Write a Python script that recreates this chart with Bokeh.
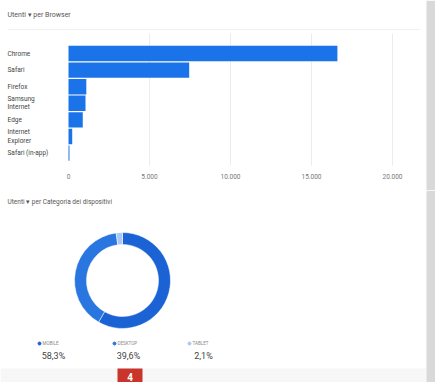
import math
from bokeh.plotting import figure
from bokeh.models import Range1d, ColumnDataSource
from bokeh.layouts import column
from bokeh.core.properties import value
from bokeh.embed import file_html
from bokeh.resources import INLINE

# ---- data ----
browsers = ["Chrome", "Safari", "Firefox", "Samsung\nInternet", "Edge", "Internet\nExplorer", "Safari (in-app)"]
users = [16600, 7450, 1100, 1050, 880, 230, 60]
x_ticks = [0, 5000, 10000, 15000, 20000]
x_tick_labels = ["0", "5.000", "10.000", "15.000", "20.000"]

devices = ["MOBILE", "DESKTOP", "TABLET"]
device_pct = [58.3, 39.6, 2.1]
device_pct_labels = ["58,3%", "39,6%", "2,1%"]
device_colors = ["#1b63d4", "#2a76e0", "#a9c9f2"]

title_browser = "Utenti \u25be per Browser"
title_device = "Utenti \u25be per Categoria dei dispositivi"
badge_text = "4"

FONT = value("Roboto")
W = 435
H1 = 190
H2 = 382 - H1

# ---------------- Figure A: bar chart ----------------
FRAME_H1 = 165
x0_px, x1_px = 68, 392           # pixel positions of 0 and 20000
scale = (x1_px - x0_px) / 20000.0
xs = -x0_px / scale
xe = xs + W / scale
pitch = 16.6
first_center = 53
ytop = -first_center / pitch
ybot = ytop + H1 / pitch

def PX(px):
    return xs + px / scale

def PY(py):
    return ytop + py / pitch

p1 = figure(width=W, height=H1, output_backend="svg", toolbar_location=None,
            x_range=Range1d(xs, xe), y_range=Range1d(ybot, ytop),
            min_border_left=0, min_border_right=0, min_border_top=0,
            min_border_bottom=0)
p1.axis.visible = False
p1.grid.visible = False
p1.outline_line_color = None
p1.background_fill_color = "#ffffff"
p1.border_fill_color = "#ffffff"

# grid lines
p1.segment(x0=x_ticks[1:], x1=x_ticks[1:], y0=PY(33), y1=PY(FRAME_H1),
           line_color="#ececec", line_width=1)
# faint separator under header
p1.segment(x0=PX(7), x1=PX(420), y0=PY(29), y1=PY(29), line_color="#f1f1f1", line_width=1)

ypos = list(range(len(browsers)))
src = ColumnDataSource(dict(y=ypos, v=users, name=browsers))
p1.hbar(y="y", left=0, right="v", height=0.93, source=src,
        fill_color="#1a73e8", line_color=None)
p1.text(x=PX(7), y="y", text="name", source=src, text_font=FONT,
        text_font_size="6.5px", text_color="#444444", text_baseline="middle",
        text_align="left", text_line_height=1.05)
p1.text(x=x_ticks, y=PY(176), text=x_tick_labels, text_font=FONT,
        text_font_size="6.5px", text_color="#777777", text_baseline="middle",
        text_align="center")
p1.text(x=[PX(7)], y=[PY(14)], text=[title_browser], text_font=FONT,
        text_font_size="7px", text_color="#555555", text_baseline="middle")
# right gray strip
p1.quad(left=PX(426), right=PX(W), bottom=PY(H1), top=PY(0),
        fill_color="#d9d9d9", line_color=None)

# ---------------- Figure B: donut ----------------
p2 = figure(width=W, height=H2, output_backend="svg", toolbar_location=None,
            x_range=Range1d(0, W), y_range=Range1d(0, H2),
            min_border_left=0, min_border_right=0, min_border_top=0, min_border_bottom=0)
p2.axis.visible = False
p2.grid.visible = False
p2.outline_line_color = None
p2.background_fill_color = "#ffffff"
p2.border_fill_color = "#ffffff"

def Y2(global_y):
    return H2 - (global_y - H1)

p2.text(x=[7], y=[Y2(201)], text=[title_device], text_font=FONT,
        text_font_size="6.5px", text_color="#555555", text_baseline="middle")

cx, cy = 122, Y2(280)
starts, ends = [], []
cum = 0.0
for pct in device_pct:
    starts.append(math.pi / 2 - cum / 100 * 2 * math.pi)
    cum += pct
    ends.append(math.pi / 2 - cum / 100 * 2 * math.pi)
dsrc = ColumnDataSource(dict(s=starts, e=ends, c=device_colors))
p2.annular_wedge(x=cx, y=cy, inner_radius=36, outer_radius=48,
                 inner_radius_units="screen", outer_radius_units="screen",
                 start_angle="s", end_angle="e", direction="clock",
                 fill_color="c", line_color="#ffffff", line_width=0.5, source=dsrc)

leg_x = [53, 128, 203]
p2.scatter(x=[x - 14 for x in leg_x], y=Y2(343), size=3, color=device_colors)
p2.text(x=[x - 11 for x in leg_x], y=Y2(343), text=devices, text_font=FONT,
        text_font_size="4.5px", text_color="#888888", text_baseline="middle")
p2.text(x=leg_x, y=Y2(355), text=device_pct_labels, text_font=FONT,
        text_font_size="9px", text_color="#444444", text_baseline="middle",
        text_align="center")

# bottom region below card
p2.quad(left=0, right=426, bottom=0, top=Y2(368), fill_color="#f7f7f7", line_color=None)
# red badge
p2.quad(left=117, right=142, bottom=0, top=Y2(368), fill_color="#c9352a", line_color=None)
p2.text(x=[129.5], y=[Y2(376)], text=[badge_text], text_font=FONT, text_font_style="bold",
        text_font_size="10px", text_color="#ffffff", text_baseline="middle", text_align="center")
# right gray strip
p2.quad(left=426, right=W, bottom=0, top=H2, fill_color="#d9d9d9", line_color=None)

layout = column(p1, p2, spacing=0)
open("out.html", "w").write(file_html(layout, INLINE))
